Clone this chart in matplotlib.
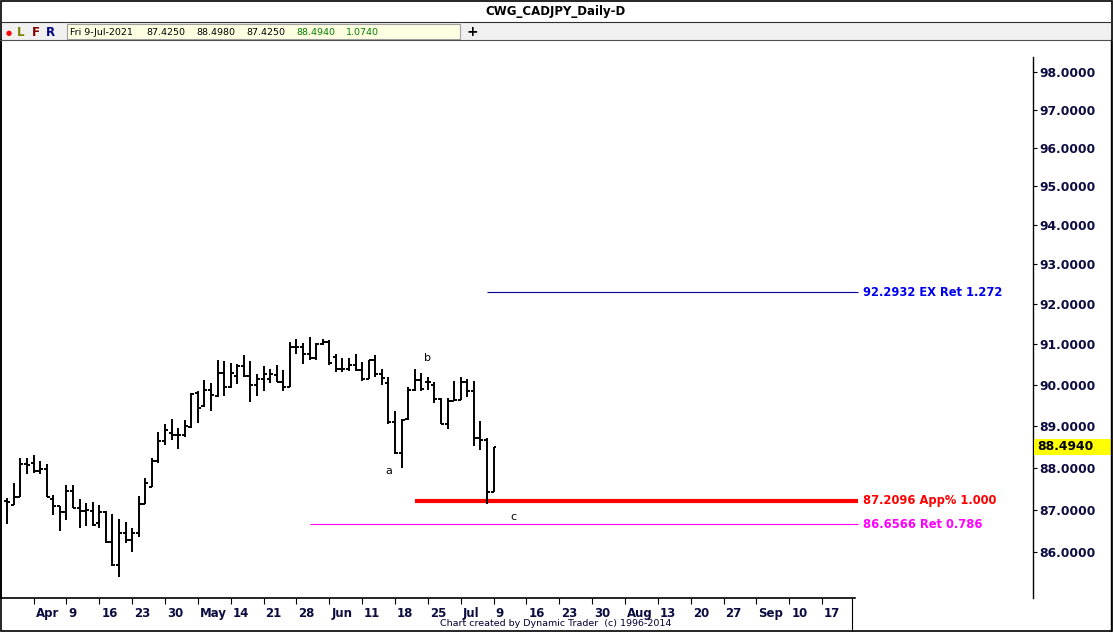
import numpy as np
import pandas as pd
import matplotlib
matplotlib.use("Agg")
import matplotlib.pyplot as plt
from matplotlib.ticker import FixedLocator, FuncFormatter, NullLocator
from matplotlib.transforms import ScaledTranslation, blended_transform_factory
from matplotlib.patches import Rectangle
from matplotlib.lines import Line2D

# ---------------- data ----------------
title = "CWG_CADJPY_Daily-D"
start_date = "2021-03-29"
opens = [87.20, 87.10, 87.29, 88.08, 88.12, 87.92, 87.96, 87.25, 87.08, 86.95,
         87.43, 87.04, 86.97, 86.97, 86.68, 86.95, 86.24, 85.69, 86.44, 86.28,
         86.44, 87.13, 87.53, 88.15, 88.64, 88.82, 88.78, 88.78, 88.97, 89.80,
         89.49, 89.88, 89.73, 90.30, 89.94, 90.21, 90.46, 90.21, 90.00, 90.14,
         90.14, 90.25, 90.08, 89.94, 90.93, 90.93, 90.77, 90.65, 91.02, 91.06,
         90.69, 90.40, 90.40, 90.49, 90.36, 90.14, 90.61, 90.28, 90.04, 89.10,
         88.34, 89.17, 89.88, 90.12, 90.08, 90.00, 89.65, 89.05, 89.61, 89.63,
         90.08, 89.85, 88.70, 88.65, 87.425]
highs = [87.27, 87.62, 88.22, 88.22, 88.30, 88.16, 88.08, 87.35, 87.08, 87.58,
         87.58, 87.24, 87.16, 87.18, 87.11, 86.97, 86.90, 86.77, 86.70, 86.56,
         87.32, 87.74, 88.24, 88.86, 89.04, 89.16, 88.94, 89.14, 89.81, 89.84,
         90.12, 90.04, 90.62, 90.58, 90.54, 90.52, 90.73, 90.58, 90.28, 90.46,
         90.38, 90.48, 90.36, 91.06, 91.14, 91.03, 91.18, 91.03, 91.14, 91.10,
         90.77, 90.65, 90.65, 90.77, 90.57, 90.62, 90.73, 90.40, 90.20, 89.37,
         89.17, 89.96, 90.39, 90.30, 90.19, 90.08, 89.68, 89.69, 90.10, 90.19,
         90.14, 90.10, 89.13, 88.71, 88.498]
lows = [86.65, 87.10, 87.29, 87.84, 87.86, 87.84, 87.29, 86.86, 86.50, 86.75,
        87.03, 86.57, 86.62, 86.60, 86.57, 86.22, 85.67, 85.42, 86.22, 86.01,
        86.36, 87.13, 87.53, 88.11, 88.53, 88.66, 88.44, 88.73, 88.94, 89.08,
        89.46, 89.37, 89.70, 89.74, 89.92, 90.02, 90.19, 89.59, 89.74, 89.86,
        90.04, 90.08, 89.86, 89.94, 90.77, 90.52, 90.62, 90.62, 90.98, 90.49,
        90.32, 90.32, 90.34, 90.34, 90.10, 90.14, 90.19, 90.00, 89.04, 88.32,
        87.98, 89.15, 89.85, 89.85, 89.88, 89.55, 89.05, 88.92, 89.61, 89.63,
        89.70, 88.52, 88.42, 87.13, 87.425]
closes = [87.18, 87.29, 88.08, 88.06, 87.92, 87.96, 87.29, 87.08, 86.95, 87.45,
          87.04, 86.97, 86.98, 86.64, 86.95, 86.24, 85.69, 86.44, 86.28, 86.44,
          87.13, 87.62, 88.15, 88.64, 88.90, 88.78, 88.78, 89.00, 89.78, 89.44,
          89.88, 89.76, 90.30, 89.94, 90.30, 90.46, 90.21, 90.00, 90.14, 90.28,
          90.27, 90.08, 89.94, 90.93, 90.93, 90.77, 90.65, 91.02, 91.06, 90.55,
          90.40, 90.40, 90.49, 90.36, 90.14, 90.61, 90.28, 90.16, 89.10, 88.36,
          89.15, 89.88, 90.12, 89.90, 90.06, 89.65, 89.05, 89.61, 89.63, 90.08,
          89.85, 88.70, 88.65, 87.42, 88.494]

info_date = "Fri 9-Jul-2021"
info_values = ["87.4250", "88.4980", "87.4250", "88.4940", "1.0740"]

price_ticks = [86, 87, 88, 89, 90, 91, 92, 93, 94, 95, 96, 97, 98]
first_friday = "2021-04-02"
last_friday = "2021-09-17"

level_prices = [92.2932, 87.2096, 86.6566]
level_texts = ["EX Ret 1.272", "App% 1.000", "Ret 0.786"]
level_start_dates = ["2021-07-08", "2021-06-23", "2021-06-01"]
level_colors = ["#000099", "#ff0000", "#ff00ff"]
level_text_colors = ["#0000ee", "#ff0000", "#ff00ff"]
level_widths = [0.8, 3.0, 0.8]

wave_labels = ["a", "b", "c"]
wave_dates = ["2021-06-17", "2021-06-25", "2021-07-14"]
wave_prices = [87.92, 90.66, 86.83]

# ---------------- figure ----------------
W, H = 1113, 632
fig = plt.figure(figsize=(W / 100, H / 100), dpi=100)
fig.patch.set_facecolor("white")

def fx(x):
    return x / W

def fy(y):
    return 1 - y / H

n = len(opens)
xs = np.arange(n)

ax = fig.add_axes([fx(1), fy(598), (1033 - 1) / W, (598 - 40) / H])
ax.set_facecolor("white")
ax.set_yscale("log")
ax.set_xlim(-0.96, 156.1)
ax.set_ylim(84.93, 98.857)

# OHLC bars
bar_lw = 1.4
tick_w = 0.45
ax.vlines(xs, lows, highs, color="black", lw=bar_lw, zorder=5)
ax.hlines(opens, xs - tick_w, xs, color="black", lw=bar_lw, zorder=5)
ax.hlines(closes, xs, xs + tick_w, color="black", lw=bar_lw, zorder=5)

# level lines
d0 = np.datetime64(start_date)
line_end = 129.5
for p, t, sd, c, tc, lw in zip(level_prices, level_texts, level_start_dates,
                               level_colors, level_text_colors, level_widths):
    sx = np.busday_count(d0, np.datetime64(sd))
    ax.hlines(p, sx, line_end, color=c, lw=lw, zorder=3)
    ax.text(line_end + 0.7, p, f"{p:.4f} {t}", color=tc, fontsize=8.3,
            fontweight="bold", va="center", ha="left", zorder=6)

# wave labels
for lab, wd, wp in zip(wave_labels, wave_dates, wave_prices):
    wx = np.busday_count(d0, np.datetime64(wd))
    ax.text(wx, wp, lab, fontsize=8, color="black", ha="center", va="center")

# price axis on the right
navy = "#0c0c40"
ax.yaxis.tick_right()
ax.yaxis.set_major_locator(FixedLocator(price_ticks))
ax.yaxis.set_major_formatter(FuncFormatter(lambda v, pos: f"{v:.4f}"))
ax.yaxis.set_minor_locator(NullLocator())
ax.tick_params(axis="y", which="major", direction="out", length=3, width=0.8,
               pad=1.5, labelsize=8.9, labelcolor=navy, color="black")
for lb in ax.get_yticklabels():
    lb.set_fontweight("bold")

# date axis
fridays = pd.date_range(first_friday, last_friday, freq="W-FRI")
tick_pos = [np.busday_count(d0, np.datetime64(d.date())) for d in fridays]
tick_lab = [d.strftime("%b") if d.day <= 7 else str(d.day) for d in fridays]
ax.xaxis.set_major_locator(FixedLocator(tick_pos))
ax.set_xticklabels(tick_lab)
ax.tick_params(axis="x", direction="out", length=4, width=0.8, pad=2.5,
               labelsize=8.5, labelcolor=navy, color="black")
shift = ScaledTranslation(2 / 100, 0, fig.dpi_scale_trans)
for lb in ax.get_xticklabels():
    lb.set_fontweight("bold")
    lb.set_horizontalalignment("left")
    lb.set_transform(lb.get_transform() + shift)

ax.spines["top"].set_visible(False)
ax.spines["left"].set_linewidth(1.2)
ax.spines["bottom"].set_linewidth(1.2)
ax.spines["bottom"].set_bounds(-0.96, 129.0)
ax.spines["right"].set_linewidth(1.0)
ax.spines["right"].set_bounds(84.93, 98.40)

# current price highlight
last = closes[-1]
btf = blended_transform_factory(ax.transAxes, ax.transData)
y0 = last * np.exp(-8 / 3675)
y1 = last * np.exp(8 / 3675)
ax.add_patch(Rectangle((1.0005, y0), (1111 - 1034) / 1032, y1 - y0,
                       transform=btf, facecolor="#ffff00", edgecolor="none",
                       clip_on=False, zorder=7))
ax.text(1.0 + 4 / 1032, last, f"{last:.4f}", transform=btf, fontsize=8.9,
        fontweight="bold", color="black", va="center", ha="left",
        clip_on=False, zorder=8)

# ---------------- header ----------------
fig.text(fx(556), fy(11), title, fontsize=8.5, fontweight="bold",
         ha="center", va="center", color="black")
fig.add_artist(Rectangle((0, fy(40)), 1, (40 - 22) / H, transform=fig.transFigure,
                         facecolor="#f0f0f0", edgecolor="none", zorder=0))
fig.add_artist(Rectangle((fx(67), fy(39)), fx(460) - fx(67), (39 - 24.5) / H,
                         transform=fig.transFigure, facecolor="#ffffe1",
                         edgecolor="#a0a0a0", lw=0.8, zorder=1))
for yy, col in [(22, "#303030"), (40, "#505050")]:
    fig.add_artist(Line2D([0, 1], [fy(yy), fy(yy)], transform=fig.transFigure,
                          color=col, lw=0.8))
ty = fy(32.5)
fig.text(fx(9), ty, "\u25CF", color="#ff0000", fontsize=5, ha="center", va="center")
fig.text(fx(21), ty, "L", color="#808000", fontsize=8.5, fontweight="bold", ha="center", va="center")
fig.text(fx(36), ty, "F", color="#800000", fontsize=8.5, fontweight="bold", ha="center", va="center")
fig.text(fx(50), ty, "R", color="#000080", fontsize=8.5, fontweight="bold", ha="center", va="center")
fig.text(fx(70), ty, info_date, fontsize=6.8, color="black", ha="left", va="center")
info_x = [146, 196, 246, 296, 346]
info_col = ["black", "black", "black", "#008000", "#008000"]
for xv, v, c in zip(info_x, info_values, info_col):
    fig.text(fx(xv), ty, v, fontsize=6.8, color=c, ha="left", va="center")
fig.text(fx(472), ty, "+", fontsize=10, fontweight="bold", color="black",
         ha="center", va="center")

# bottom panel
fig.add_artist(Line2D([fx(852), fx(852)], [fy(598), fy(631)], transform=fig.transFigure,
                      color="black", lw=0.8))
fig.text(fx(556), fy(624), "Chart created by Dynamic Trader  (c) 1996-2014",
         fontsize=6.8, color="#000033", ha="center", va="center")

# outer border
fig.add_artist(Rectangle((0.0005, 0.001), 0.999, 0.998, transform=fig.transFigure,
                         facecolor="none", edgecolor="black", lw=1.2))
fig.add_artist(Line2D([fx(1111), fx(1111)], [fy(40), fy(632)], transform=fig.transFigure,
                      color="black", lw=1.0))

fig.savefig("out.png", dpi=100)
